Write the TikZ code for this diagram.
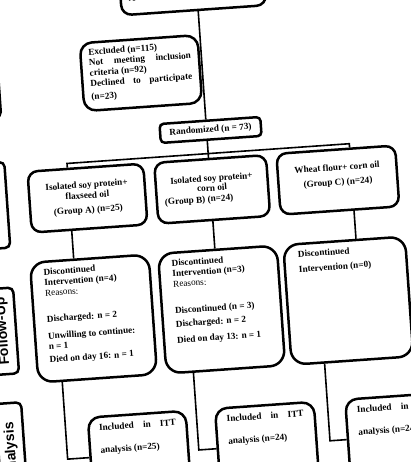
\documentclass[tikz,border=0pt]{standalone}
\usepackage{graphicx}
\usepackage{fontspec}
\setmainfont{Liberation Serif}
\newfontfamily\stagefont{Liberation Sans}
\newcommand\flowsize{\fontsize{9.2}{10.5}\selectfont}
\newcommand\spreadline[1]{\makebox[\linewidth][s]{#1}}
\tikzset{
  flowbox/.style={draw, line width=2.5pt, rounded corners=10pt, inner sep=0pt, font=\flowsize\bfseries},
  grpbox/.style={flowbox, minimum height=61pt},
  discbox/.style={flowbox, rounded corners=15pt, minimum width=119pt, minimum height=120pt},
  inclbox/.style={flowbox, rounded corners=12pt, minimum width=99pt, minimum height=80pt},
  stagebox/.style={draw, line width=2.5pt, rounded corners=5pt, minimum width=26pt, inner sep=0pt,
    font=\stagefont\fontsize{14}{16}\selectfont\bfseries},
  link/.style={line width=1.6pt},
}
\begin{document}
\begin{tikzpicture}[x=1pt, y=-1pt]
  \useasboundingbox[fill=white] (0,0) rectangle (411,462);
  \clip (0,0) rectangle (411,462);
  \begin{scope}[rotate around={4:(205,230)}, transform shape]
    % stage labels on the left
    \node[stagebox, minimum height=78pt] (enrol) at (-3.5,64) {};
    \node[stagebox, minimum height=86pt] (alloc) at (-3.5,191) {\hspace*{-7pt}\rotatebox{90}{Allocation}};
    \node[stagebox, minimum height=86pt] (follow) at (-3.5,317) {\rotatebox{90}{Follow-Up}};
    \node[stagebox, minimum height=96pt] (analys) at (-3.5,437) {\rotatebox{90}{Analysis}};

    \node[flowbox, minimum width=145pt, minimum height=50pt] (elig) at (209.5,-15)
      {\parbox[c][25pt][b]{129pt}{\raggedright Assessed for eligibility (n=188)}};
    \node[flowbox, rounded corners=12pt, minimum width=118pt, minimum height=68pt] (excl) at (152,69)
      {\parbox[c][56pt][t]{102pt}{Excluded (n=115)\\
        \spreadline{Not meeting inclusion}\\
        criteria (n=92)\\
        \spreadline{Declined to participate}\\[3pt]
        (n=23)}};
    \node[flowbox, rounded corners=4pt, minimum width=101pt, minimum height=19pt] (rand) at (217.5,130.6)
      {Randomized (n = 73)};

    \node[grpbox, minimum width=116pt] (grpA) at (90,190)
      {\parbox{100pt}{\centering Isolated soy protein+\\ flaxseed oil\\[4pt] (Group A) (n=25)}};
    \node[grpbox, minimum width=112pt] (grpB) at (215,190)
      {\parbox{96pt}{\centering Isolated soy protein+\\[-1pt] corn oil\\[0.5pt]
        \makebox[\linewidth][l]{(Group B) (n=24)}}};
    \node[grpbox, minimum width=119pt] (grpC) at (341,189.5)
      {\parbox[c][32pt][t]{105pt}{\centering Wheat flour+ corn oil\\[4pt] (Group C) (n=24)}};

    \node[discbox] (discA) at (87.6,310.5)
      {\parbox[c][106pt][t]{93pt}{\raggedright Discontinued\\
        Intervention (n=4)\\
        {\mdseries Reasons:}\\[15.5pt]
        Discharged: n = 2\\[6.5pt]
        Unwilling to continue:\\
        n = 1\\[2.5pt]
        Died on day 16: n = 1}};
    \node[discbox] (discB) at (216,310.5)
      {\parbox[c][106pt][t]{93pt}{\raggedright Discontinued\\
        Intervention (n=3)\\
        {\mdseries Reasons:}\\[16pt]
        Discontinued (n = 3)\\[3pt]
        Discharged: n = 2\\[5.5pt]
        Died on day 13: n = 1}};
    \node[discbox, minimum width=122pt] (discC) at (343,310.5)
      {\parbox[c][106pt][t]{94pt}{\raggedright Discontinued\\[4.5pt]
        Intervention (n=0)}};

    \node[inclbox, minimum width=98pt] (inclA) at (124,449)
      {\parbox[c][65pt][t]{77pt}{\spreadline{Included in ITT}\\[12pt] analysis (n=25)}};
    \node[inclbox] (inclB) at (252,449)
      {\parbox[c][65pt][t]{77pt}{\spreadline{Included in ITT}\\[12pt] analysis (n=24)}};
    \node[inclbox] (inclC) at (382.5,449)
      {\parbox[c][65pt][t]{77pt}{\spreadline{Included in ITT}\\[12pt] analysis (n=24)}};

    \coordinate (colA) at (72,0);
    \coordinate (colB) at (213.5,0);
    \coordinate (colC) at (355,0);
    \coordinate (exA) at (52,0);
    \coordinate (exB) at (183.5,0);
    \coordinate (exC) at (315,0);
    \coordinate (barL) at (72,154);
    \coordinate (barR) at (355,154);

    \begin{scope}[link]
      \draw (elig.south -| colB) -- (rand.north -| colB);
      \draw (rand.south -| colB) -- (grpB.north -| colB);
      \draw (grpA.north -| barL) -- (barL) -- (barR) -- (grpC.north -| barR);
      \draw (grpA.south -| colA) -- (discA.north -| colA);
      \draw (grpB.south -| colB) -- (discB.north -| colB);
      \draw (grpC.south -| colC) -- (discC.north -| colC);
      \draw (discA.south -| exA) |- (inclA.west);
      \draw (discB.south -| exB) |- (inclB.west);
      \draw (discC.south -| exC) |- (inclC.west);
    \end{scope}
  \end{scope}
\end{tikzpicture}
\end{document}
